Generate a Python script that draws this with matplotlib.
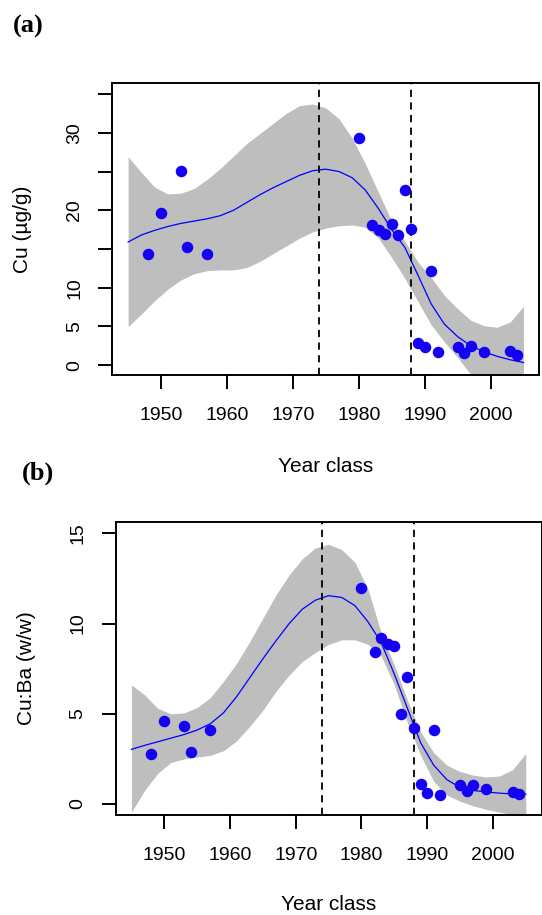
import matplotlib
matplotlib.use("Agg")
import matplotlib.pyplot as plt

# year grid for fitted curves and confidence bands
fit_years = [1945, 1947, 1949, 1951, 1953, 1955, 1957, 1959, 1961, 1963, 1965,
             1967, 1969, 1971, 1973, 1975, 1977, 1979, 1981, 1983, 1985, 1987,
             1989, 1991, 1993, 1995, 1997, 1999, 2001, 2003, 2005]

# panel (a) Cu
cu_years = [1948, 1950, 1953, 1954, 1957, 1980, 1982, 1983, 1984, 1985, 1986,
            1987, 1988, 1989, 1990, 1991, 1992, 1995, 1996, 1997, 1999, 2003, 2004]
cu_vals = [14.4, 19.6, 25.1, 15.3, 14.3, 29.3, 18.1, 17.4, 16.9, 18.2, 16.8,
           22.6, 17.6, 2.9, 2.4, 12.2, 1.75, 2.3, 1.55, 2.5, 1.7, 1.85, 1.3]
cu_fit = [15.9, 16.8, 17.4, 17.9, 18.3, 18.6, 18.9, 19.3, 20.0, 21.0, 22.0,
          22.9, 23.7, 24.5, 25.1, 25.3, 25.0, 24.2, 22.6, 20.2, 17.5, 15.2,
          11.6, 7.9, 5.3, 3.7, 2.5, 1.75, 1.15, 0.7, 0.35]
cu_upper = [26.9, 24.9, 23.0, 22.1, 22.2, 22.8, 24.0, 25.4, 27.0, 28.6, 29.9,
            31.2, 32.5, 33.5, 33.7, 33.2, 31.8, 29.3, 26.0, 22.3, 18.6, 16.0,
            13.3, 11.3, 9.0, 7.3, 5.8, 5.1, 4.9, 5.6, 7.6]
cu_lower = [5.0, 6.6, 8.3, 9.8, 11.0, 11.8, 12.2, 12.3, 12.3, 12.6, 13.4,
            14.4, 15.4, 16.4, 17.2, 17.7, 18.0, 18.1, 17.8, 16.4, 13.9, 11.2,
            8.2, 5.2, 3.0, 1.0, -1.2, -2.5, -3.0, -2.8, -2.2]

# panel (b) Cu:Ba
cuba_years = [1948, 1950, 1953, 1954, 1957, 1980, 1982, 1983, 1984, 1985, 1986,
              1987, 1988, 1989, 1990, 1991, 1992, 1995, 1996, 1997, 1999, 2003, 2004]
cuba_vals = [2.77, 4.62, 4.32, 2.88, 4.10, 11.96, 8.41, 9.18, 8.87, 8.76, 4.99,
             7.06, 4.23, 1.11, 0.63, 4.10, 0.50, 1.05, 0.72, 1.05, 0.81, 0.68, 0.54]
cuba_fit = [3.03, 3.25, 3.45, 3.65, 3.85, 4.1, 4.45, 5.05, 5.95, 7.0, 8.05,
            9.05, 10.0, 10.8, 11.3, 11.55, 11.45, 11.0, 10.1, 8.95, 7.2, 5.3,
            3.4, 2.15, 1.35, 0.92, 0.75, 0.67, 0.6, 0.56, 0.55]
cuba_upper = [6.6, 6.05, 5.3, 5.0, 5.05, 5.35, 5.9, 6.8, 7.8, 9.0, 10.3,
              11.6, 12.7, 13.6, 14.2, 14.4, 14.1, 13.4, 11.9, 9.5, 7.7, 5.75,
              4.0, 2.85, 2.15, 1.8, 1.6, 1.5, 1.55, 1.9, 2.8]
cuba_lower = [-0.45, 0.75, 1.7, 2.3, 2.5, 2.6, 2.7, 2.95, 3.5, 4.3, 5.2,
              6.25, 7.15, 7.9, 8.4, 8.85, 9.1, 9.1, 8.85, 8.2, 6.6, 4.5,
              2.7, 1.25, 0.5, 0.15, -0.1, -0.3, -0.45, -0.6, -0.7]

breaks = [1974, 1988]
x_ticks = [1950, 1960, 1970, 1980, 1990, 2000]

W, H = 542, 915
plt.rcParams['font.family'] = ['Liberation Sans', 'DejaVu Sans']
fig = plt.figure(figsize=(W / 100, H / 100), dpi=100)


def px_axes(left, top, right, bottom):
    return fig.add_axes([left / W, 1 - bottom / H, (right - left) / W, (bottom - top) / H])


def draw_panel(ax, years, vals, fit, upper, lower, ylim, yticks, ylabels):
    ax.fill_between(fit_years, lower, upper, color='#bebebe', linewidth=0)
    ax.plot(fit_years, fit, color='blue', lw=0.9)
    for b in breaks:
        ax.axvline(b, color='black', lw=1.3, linestyle=(0, (4, 3)))
    ax.plot(years, vals, 'o', color='#1400f5', markersize=8.3, markeredgewidth=0)
    ax.set_xlim(1942.6, 2007.4)
    ax.set_ylim(*ylim)
    ax.set_xticks(x_ticks)
    ax.set_xticklabels([str(t) for t in x_ticks], fontsize=14)
    ax.set_yticks(yticks)
    ax.set_yticklabels(ylabels, fontsize=14, rotation=90, va='center')
    ax.tick_params(axis='x', length=10, width=1.4, pad=13)
    ax.tick_params(axis='y', length=10, width=1.4, pad=11)
    for s in ax.spines.values():
        s.set_linewidth(1.4)


ax_a = px_axes(112.3, 82.7, 539.3, 375)
draw_panel(ax_a, cu_years, cu_vals, cu_fit, cu_upper, cu_lower,
           (-1.26, 36.46), [0, 5, 10, 15, 20, 25, 30, 35],
           ['0', '5', '10', '', '20', '', '30', ''])

ax_b = px_axes(115.7, 521.7, 541.5, 815)
draw_panel(ax_b, cuba_years, cuba_vals, cuba_fit, cuba_upper, cuba_lower,
           (-0.61, 15.65), [0, 5, 10, 15], ['0', '5', '10', '15'])

# axis titles and panel letters
fig.text(325.8 / W, 1 - 466 / H, 'Year class', fontsize=15, ha='center', va='center')
fig.text(328.6 / W, 1 - 905 / H, 'Year class', fontsize=15, ha='center', va='center')
fig.text(23 / W, 1 - 229 / H, 'Cu (µg/g)', fontsize=15, rotation=90, ha='center', va='center')
fig.text(26 / W, 1 - 668 / H, 'Cu:Ba (w/w)', fontsize=15, rotation=90, ha='center', va='center')
fig.text(13 / W, 1 - 26 / H, '(a)', fontsize=19, fontweight='bold',
         family='Liberation Serif', ha='left', va='center')
fig.text(22 / W, 1 - 473 / H, '(b)', fontsize=19, fontweight='bold',
         family='Liberation Serif', ha='left', va='center')

fig.savefig('out.png', dpi=100)
